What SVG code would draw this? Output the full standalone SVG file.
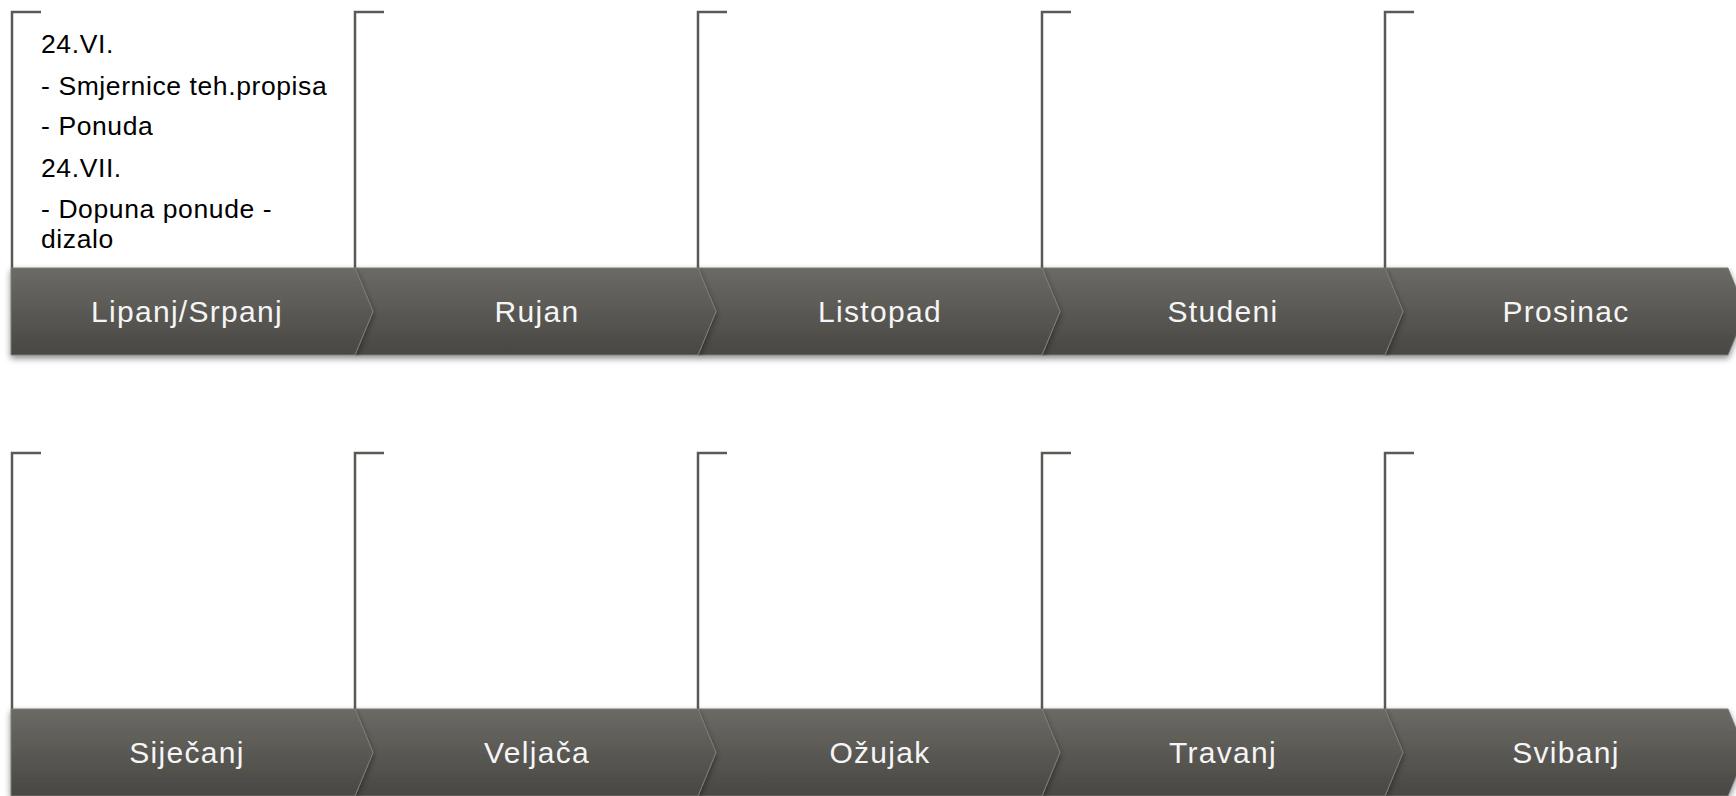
<svg xmlns="http://www.w3.org/2000/svg" width="1736" height="796" viewBox="0 0 1736 796">
  <defs>
    <linearGradient id="barGrad" x1="0" y1="0" x2="0" y2="1">
      <stop offset="0" stop-color="#6b6a65"/>
      <stop offset="1" stop-color="#494743"/>
    </linearGradient>
    <filter id="shadow" x="-5%" y="-20%" width="110%" height="160%">
      <feDropShadow dx="0" dy="3" stdDeviation="3" flood-color="#000" flood-opacity="0.45"/>
    </filter>
  </defs>
  <style>
    .bg { fill: #ffffff; }
    .seg { fill: url(#barGrad); stroke: #7d7b76; stroke-width: 1; filter: url(#shadow); }
    .brk { fill: none; stroke: #5a5955; stroke-width: 2.5; stroke-linejoin: miter; }
    .lbl { font-family: "Liberation Sans", Arial, sans-serif; font-size: 30px; letter-spacing: 1.3px; fill: #f5f5f5; text-anchor: middle; }
    .txt { font-family: "Liberation Sans", Arial, sans-serif; font-size: 26.5px; letter-spacing: 0.6px; fill: #000000; }
  </style>
  <rect class="bg" x="0" y="0" width="1736" height="796"/>

  <!-- Row 1 -->
  <g id="node-lipanj-srpanj">
    <path class="brk" d="M41,12 H12 V268"/>
    <text class="txt" x="41" y="53">24.VI.</text>
    <text class="txt" x="41" y="95">- Smjernice teh.propisa</text>
    <text class="txt" x="41" y="135">- Ponuda</text>
    <text class="txt" x="41" y="177">24.VII.</text>
    <text class="txt" x="41" y="218">- Dopuna ponude -</text>
    <text class="txt" x="41" y="248">dizalo</text>
  </g>
  <g id="node-rujan">
    <path class="brk" d="M384,12 H355 V268"/>
  </g>
  <g id="node-listopad">
    <path class="brk" d="M727,12 H698 V268"/>
  </g>
  <g id="node-studeni">
    <path class="brk" d="M1071,12 H1042 V268"/>
  </g>
  <g id="node-prosinac">
    <path class="brk" d="M1414,12 H1385 V268"/>
  </g>

  <g id="bar-row1">
    <path class="seg" d="M1385,268 H1728 L1746,311.5 L1728,355 H1385 L1403,311.5 Z"/>
    <path class="seg" d="M1042,268 H1385 L1403,311.5 L1385,355 H1042 L1060,311.5 Z"/>
    <path class="seg" d="M698,268 H1042 L1060,311.5 L1042,355 H698 L716,311.5 Z"/>
    <path class="seg" d="M355,268 H698 L716,311.5 L698,355 H355 L373,311.5 Z"/>
    <path class="seg" d="M11,268 H355 L373,311.5 L355,355 H11 Z"/>
    <text class="lbl" x="187" y="322">Lipanj/Srpanj</text>
    <text class="lbl" x="537" y="322">Rujan</text>
    <text class="lbl" x="880" y="322">Listopad</text>
    <text class="lbl" x="1223" y="322">Studeni</text>
    <text class="lbl" x="1566" y="322">Prosinac</text>
  </g>

  <!-- Row 2 -->
  <g id="node-sijecanj">
    <path class="brk" d="M41,453 H12 V709"/>
  </g>
  <g id="node-veljaca">
    <path class="brk" d="M384,453 H355 V709"/>
  </g>
  <g id="node-ozujak">
    <path class="brk" d="M727,453 H698 V709"/>
  </g>
  <g id="node-travanj">
    <path class="brk" d="M1071,453 H1042 V709"/>
  </g>
  <g id="node-svibanj">
    <path class="brk" d="M1414,453 H1385 V709"/>
  </g>

  <g id="bar-row2">
    <path class="seg" d="M1385,709 H1728 L1746,752.5 L1728,796 H1385 L1403,752.5 Z"/>
    <path class="seg" d="M1042,709 H1385 L1403,752.5 L1385,796 H1042 L1060,752.5 Z"/>
    <path class="seg" d="M698,709 H1042 L1060,752.5 L1042,796 H698 L716,752.5 Z"/>
    <path class="seg" d="M355,709 H698 L716,752.5 L698,796 H355 L373,752.5 Z"/>
    <path class="seg" d="M11,709 H355 L373,752.5 L355,796 H11 Z"/>
    <text class="lbl" x="187" y="763">Siječanj</text>
    <text class="lbl" x="537" y="763">Veljača</text>
    <text class="lbl" x="880" y="763">Ožujak</text>
    <text class="lbl" x="1223" y="763">Travanj</text>
    <text class="lbl" x="1566" y="763">Svibanj</text>
  </g>
</svg>
